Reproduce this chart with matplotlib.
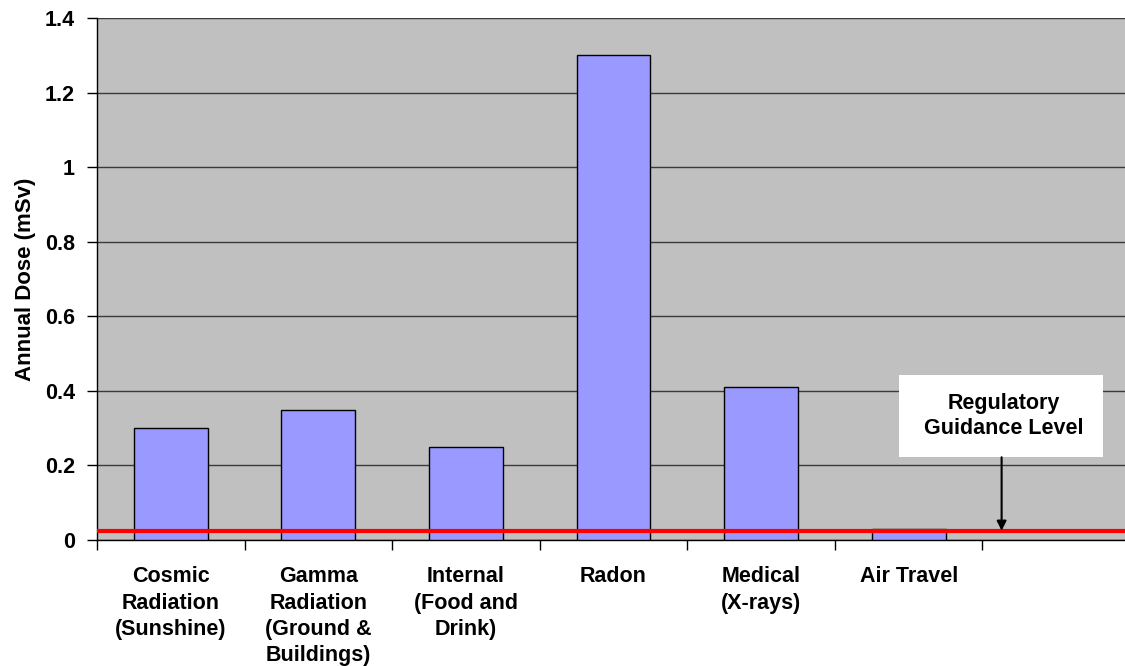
import numpy as np
import matplotlib
matplotlib.use("Agg")
import matplotlib.pyplot as plt
from matplotlib.patches import Rectangle

plt.rcParams['font.family'] = ['Liberation Sans', 'DejaVu Sans']

# Data
categories = ["Cosmic\nRadiation\n(Sunshine)", "Gamma\nRadiation\n(Ground &\nBuildings)",
              "Internal\n(Food and\nDrink)", "Radon", "Medical\n(X-rays)", "Air Travel", ""]
doses = [0.30, 0.35, 0.25, 1.30, 0.41, 0.03, 0.0]
guidance_level = 0.025
yticks = [0, 0.2, 0.4, 0.6, 0.8, 1, 1.2, 1.4]
ytick_labels = ["0", "0.2", "0.4", "0.6", "0.8", "1", "1.2", "1.4"]

fig = plt.figure(figsize=(11.25, 6.66), dpi=100)
ax = fig.add_axes([97/1125, 126/666, 1033/1125, 522/666])
ax.set_facecolor("#C0C0C0")

x = np.arange(len(categories))
ax.bar(x[:6], doses[:6], width=0.5, color="#9999FF", edgecolor="black", linewidth=1, zorder=3)

# Regulatory guidance level line
ax.axhline(guidance_level, color="#FF0000", linewidth=3, zorder=4)

ax.set_xlim(-0.5, 6.5)
ax.set_ylim(0, 1.4)
ax.set_yticks(yticks)
ax.set_yticklabels(ytick_labels, fontsize=15.5, fontweight="bold")
ax.yaxis.grid(True, color="#3A3A3A", linewidth=1, zorder=1)
ax.set_axisbelow(True)

ax.set_xticks(x)
ax.set_xticklabels(categories, fontsize=15.5, fontweight="bold", linespacing=1.33, va="top")
ax.set_xticks(np.arange(-0.5, 7, 1), minor=True)
ax.tick_params(axis="x", which="major", length=0, pad=19)
ax.tick_params(axis="x", which="minor", length=7, width=1, direction="out")
ax.tick_params(axis="y", length=7, width=1, direction="out", pad=9)

for s in ["top", "right"]:
    ax.spines[s].set_visible(False)
ax.spines["left"].set_linewidth(1)
ax.spines["bottom"].set_linewidth(1)

ax.set_ylabel("Annual Dose (mSv)", fontsize=16, fontweight="bold", labelpad=6)

# Annotation box and arrow
ax.add_patch(Rectangle((4.934, 0.222), 1.382, 0.22, facecolor="white", edgecolor="none", zorder=5))
ax.text(5.645, 0.332, "Regulatory\nGuidance Level", ha="center", va="center",
        fontsize=15.5, fontweight="bold", linespacing=1.25, zorder=6)
ax.annotate("", xy=(5.63, guidance_level), xytext=(5.63, 0.222),
            arrowprops=dict(arrowstyle="-|>", color="black", lw=1.5, mutation_scale=14,
                            shrinkA=0, shrinkB=0), zorder=5)

fig.savefig("out.png", dpi=100)
